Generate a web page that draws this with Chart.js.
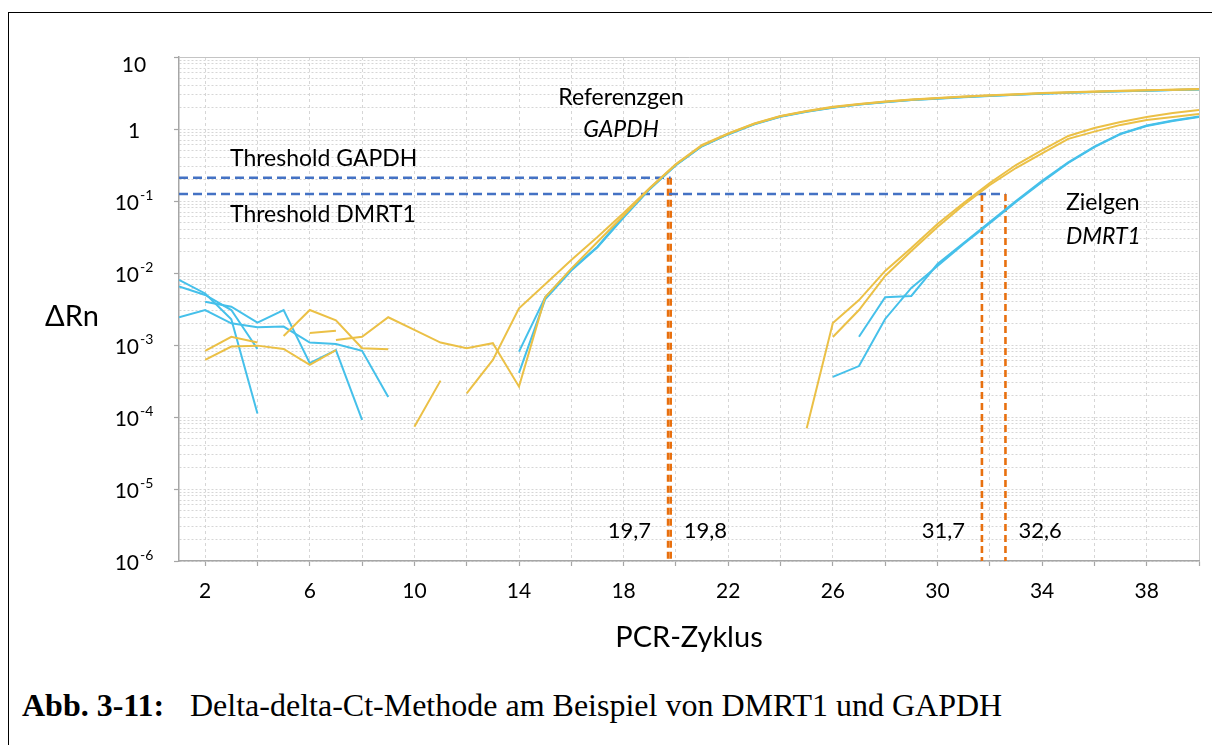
<!DOCTYPE html>
<html>
<head>
<meta charset="utf-8">
<title>Delta-delta-Ct-Methode</title>
<script src="https://cdn.jsdelivr.net/npm/chart.js@4.4.1/dist/chart.umd.min.js"></script>
<style>
  html, body { margin: 0; padding: 0; background: #fff; }
  body { width: 1212px; height: 745px; position: relative; overflow: hidden; }
  #frame { position: absolute; left: 8px; top: 12px; width: 1230px; height: 760px;
           border-left: 1.5px solid #000; border-top: 1.5px solid #000; }
  #chart { position: absolute; left: 0; top: 0; }
  #caption { position: absolute; left: 22px; top: 687px; white-space: nowrap; color: #000;
             font-family: "Liberation Serif", "Times New Roman", serif; font-size: 32px; }
  #caption b { display: inline-block; width: 168px; }
</style>
</head>
<body>
<div id="frame"></div>
<canvas id="chart" width="1212" height="680"></canvas>
<div id="caption"><b>Abb. 3-11:</b>Delta-delta-Ct-Methode am Beispiel von DMRT1 und GAPDH</div>
<script>
// PCR cycles
const cycles = [1,2,3,4,5,6,7,8,9,10,11,12,13,14,15,16,17,18,19,20,
                21,22,23,24,25,26,27,28,29,30,31,32,33,34,35,36,37,38,39,40];

// ΔRn per cycle; null = no value on the log axis (gap in the trace)
const gapdhBlue1 = [2.43e-3,3.06e-3,2.0e-3,1.76e-3,1.80e-3,1.08e-3,1.03e-3,8.3e-4,1.9e-4,null,
                    null,null,null,8.1e-4,4.6e-3,0.0112,0.0232,0.061,0.148,0.318,
                    0.58,0.85,1.17,1.49,1.75,1.99,2.19,2.37,2.53,2.65,
                    2.78,2.89,2.99,3.10,3.19,3.27,3.35,3.41,3.48,3.54];
const gapdhBlue2 = [null,4.0e-3,3.4e-3,2.04e-3,3.06e-3,5.6e-4,8.5e-4,9.1e-5,null,null,
                    null,null,null,4.1e-4,4.3e-3,0.0108,0.0228,0.059,0.146,0.314,
                    0.575,0.84,1.16,1.48,1.74,1.98,2.18,2.36,2.52,2.64,
                    2.77,2.88,2.98,3.09,3.18,3.26,3.34,3.40,3.47,3.53];
const gapdhYellow1 = [null,null,null,null,1.33e-3,3.06e-3,2.2e-3,9.0e-4,8.7e-4,null,
                      null,2.13e-4,6.2e-4,3.24e-3,7.0e-3,0.0152,0.0316,0.068,0.152,0.327,
                      0.60,0.87,1.19,1.52,1.78,2.03,2.23,2.41,2.57,2.70,
                      2.83,2.94,3.04,3.15,3.24,3.32,3.40,3.46,3.52,3.58];
const gapdhYellow2 = [null,null,null,null,null,null,1.17e-3,1.30e-3,2.43e-3,1.62e-3,
                      1.08e-3,9.0e-4,1.06e-3,2.64e-4,4.6e-3,0.0115,0.027,0.063,0.150,0.322,
                      0.59,0.86,1.18,1.50,1.76,2.01,2.21,2.39,2.55,2.68,
                      2.81,2.92,3.02,3.13,3.22,3.30,3.38,3.44,3.50,3.56];
const dmrt1Yellow1 = [null,8.3e-4,1.30e-3,1.08e-3,null,1.47e-3,1.58e-3,null,null,7.3e-5,
                      3.2e-4,null,null,null,null,null,null,null,null,null,
                      null,null,null,null,7.0e-5,2.02e-3,4.2e-3,0.0107,0.0222,0.048,
                      0.094,0.178,0.316,0.51,0.80,1.03,1.25,1.47,1.67,1.84];
const dmrt1Yellow2 = [null,6.2e-4,9.5e-4,9.8e-4,8.8e-4,5.3e-4,8.5e-4,null,null,null,
                      null,null,null,null,null,null,null,null,null,null,
                      null,null,null,null,null,1.29e-3,3.06e-3,9.1e-3,0.0202,0.0436,
                      0.088,0.167,0.287,0.46,0.73,0.92,1.14,1.33,1.47,1.62];
const dmrt1Blue1 = [8.0e-3,5.2e-3,2.28e-3,1.12e-4,null,null,null,null,null,null,
                    null,null,null,null,null,null,null,null,null,null,
                    null,null,null,null,null,3.6e-4,5.1e-4,2.3e-3,6.2e-3,0.0125,
                    0.0253,0.049,0.097,0.184,0.337,0.56,0.85,1.10,1.29,1.47];
const dmrt1Blue2 = [6.5e-3,4.95e-3,3.06e-3,8.8e-4,null,null,null,null,null,null,
                    null,null,null,null,null,null,null,null,null,null,
                    null,null,null,null,null,null,1.3e-3,4.6e-3,4.8e-3,0.0133,
                    0.026,0.051,0.10,0.19,0.343,0.57,0.86,1.12,1.31,1.49];

// thresholds and Ct values
const gapdhThreshold = 0.21;
const dmrt1Threshold = 0.125;
const gapdhCt = [19.7, 19.8];
const dmrt1Ct = [31.7, 32.6];
const gapdhCtLabels = ['19,7', '19,8'];
const dmrt1CtLabels = ['31,7', '32,6'];

// axis ticks
const xTickLabels = [2, 6, 10, 14, 18, 22, 26, 30, 34, 38];
const yTickValues = [10, 1, 0.1, 0.01, 0.001, 0.0001, 0.00001, 0.000001];
const yTickBase = ['10', '1', '10', '10', '10', '10', '10', '10'];
const yTickExp = ['', '', '-1', '-2', '-3', '-4', '-5', '-6'];

const YELLOW = '#EBC046';
const BLUE = '#45C0EA';
const THRESH = '#4472C4';
const ORANGE = '#E8700F';
const TEXT = '#000';
const FONT = 'Lato, "Open Sans", sans-serif';

Chart.defaults.font.family = FONT;

// grid positions: every 2 cycles, and 1..9 per decade on the log axis
const xGridValues = [];
for (let v = 2; v <= 40; v += 2) xGridValues.push(v);
const yGridValues = [];
for (let e = -6; e < 1; e++) {
  for (let m = 1; m <= 9; m++) yGridValues.push(Number((m * Math.pow(10, e)).toPrecision(3)));
}
yGridValues.push(10);

const toPoints = arr => cycles.map((c, i) => ({ x: c, y: arr[i] }));

function curve(label, arr, color) {
  return { label, data: toPoints(arr), borderColor: color, borderWidth: 2,
           pointRadius: 0, spanGaps: false, fill: false, tension: 0 };
}
function refLine(label, pts, color, width, dash) {
  return { label, data: pts, borderColor: color, borderWidth: width, borderDash: dash,
           pointRadius: 0, fill: false, tension: 0 };
}

const datasets = [
  curve('GAPDH 1', gapdhYellow1, YELLOW),
  curve('GAPDH 2', gapdhYellow2, YELLOW),
  curve('DMRT1 1', dmrt1Yellow1, YELLOW),
  curve('DMRT1 2', dmrt1Yellow2, YELLOW),
  curve('GAPDH 3', gapdhBlue1, BLUE),
  curve('GAPDH 4', gapdhBlue2, BLUE),
  curve('DMRT1 3', dmrt1Blue1, BLUE),
  curve('DMRT1 4', dmrt1Blue2, BLUE),
  refLine('Threshold GAPDH', [{ x: 1, y: gapdhThreshold }, { x: Math.max(...gapdhCt), y: gapdhThreshold }], THRESH, 2.6, [9, 5]),
  refLine('Threshold DMRT1', [{ x: 1, y: dmrt1Threshold }, { x: Math.max(...dmrt1Ct), y: dmrt1Threshold }], THRESH, 2.6, [9, 5]),
  ...gapdhCt.map(ct => refLine('Ct GAPDH', [{ x: ct, y: gapdhThreshold }, { x: ct, y: 1e-6 }], ORANGE, 2.6, [7, 4])),
  ...dmrt1Ct.map(ct => refLine('Ct DMRT1', [{ x: ct, y: dmrt1Threshold }, { x: ct, y: 1e-6 }], ORANGE, 2.6, [7, 4]))
];

function text(ctx, s, x, cy, size, align, italic) {
  ctx.font = (italic ? 'italic ' : '') + size + 'px ' + FONT;
  ctx.textAlign = align || 'left';
  ctx.textBaseline = 'alphabetic';
  ctx.fillText(s, x, cy + size * 0.36);
}

// tick labels with exponents, axis name and annotations
const annotate = {
  id: 'annotate',
  afterDraw(chart) {
    const { ctx, chartArea: a, scales: { x, y } } = chart;
    ctx.save();
    ctx.fillStyle = TEXT;

    const labelCenter = a.left - 45;
    yTickValues.forEach((v, i) => {
      const gy = Math.max(y.getPixelForValue(v), a.top + 6);
      const base = yTickBase[i], ex = yTickExp[i];
      ctx.font = '21px ' + FONT;
      const bw = ctx.measureText(base).width;
      ctx.font = '14px ' + FONT;
      const ew = ex ? ctx.measureText(ex).width + 1 : 0;
      const x0 = labelCenter - (bw + ew) / 2;
      const baseLine = gy + 1 + 21 * 0.36;
      ctx.textAlign = 'left';
      ctx.textBaseline = 'alphabetic';
      ctx.font = '21px ' + FONT;
      ctx.fillText(base, x0, baseLine);
      if (ex) {
        ctx.font = '14px ' + FONT;
        ctx.fillText(ex, x0 + bw + 1, baseLine - 9.5);
      }
    });

    text(ctx, 'ΔRn', 72, 316, 29, 'center');

    text(ctx, 'Referenzgen', 621, 97, 23, 'center');
    text(ctx, 'GAPDH', 621, 129, 23, 'center', true);
    text(ctx, 'Threshold GAPDH', 230, 158, 23, 'left');
    text(ctx, 'Threshold DMRT1', 230, 214, 23, 'left');
    text(ctx, 'Zielgen', 1066, 202, 23, 'left');
    text(ctx, 'DMRT1', 1066, 236, 23, 'left', true);

    const ctY = 530;
    text(ctx, gapdhCtLabels[0], x.getPixelForValue(gapdhCt[0]) - 17, ctY, 22, 'right');
    text(ctx, gapdhCtLabels[1], x.getPixelForValue(gapdhCt[1]) + 13, ctY, 22, 'left');
    text(ctx, dmrt1CtLabels[0], x.getPixelForValue(dmrt1Ct[0]) - 17, ctY, 22, 'right');
    text(ctx, dmrt1CtLabels[1], x.getPixelForValue(dmrt1Ct[1]) + 13, ctY, 22, 'left');
    ctx.restore();
  }
};

new Chart(document.getElementById('chart'), {
  type: 'line',
  data: { datasets },
  options: {
    responsive: false,
    animation: false,
    events: [],
    layout: { padding: { left: 173, right: 9, top: 57, bottom: 22 } },
    plugins: { legend: { display: false }, tooltip: { enabled: false } },
    scales: {
      x: {
        type: 'linear', min: 1, max: 40,
        afterBuildTicks(s) { s.ticks = xGridValues.map(v => ({ value: v })); },
        afterFit(s) { s.height = 97; },
        ticks: {
          autoSkip: false, maxRotation: 0, padding: 13, color: TEXT, font: { size: 21 },
          callback: v => xTickLabels.includes(v) ? String(v) : ''
        },
        grid: {
          color: c => (c.tick && c.tick.value === 40) ? '#c4c4c4' : '#d6d6d6',
          lineWidth: 1, drawTicks: true, tickLength: 5, tickColor: '#a6a6a6', tickWidth: 1.2
        },
        border: { color: '#a6a6a6', width: 1.5,
                  dash: c => (c.tick && c.tick.value === 40) ? [] : [3, 3] },
        title: { display: true, text: 'PCR-Zyklus', color: TEXT, font: { size: 29 },
                 padding: { top: 0, bottom: 3 } }
      },
      y: {
        type: 'logarithmic', min: 1e-6, max: 10,
        afterBuildTicks(s) { s.ticks = yGridValues.map(v => ({ value: v })); },
        afterFit(s) { s.width = 6; },
        ticks: { display: false, autoSkip: false },
        grid: {
          color: c => (c.tick && c.tick.value === 10) ? '#c4c4c4' : '#d6d6d6',
          lineWidth: 1, drawTicks: true, tickLength: 5, tickWidth: 1.2,
          tickColor: c => (c.tick && yTickValues.includes(c.tick.value)) ? '#a6a6a6' : 'rgba(0,0,0,0)'
        },
        border: { color: '#a6a6a6', width: 1.5,
                  dash: c => (c.tick && c.tick.value === 10) ? [] : [2, 2] }
      }
    }
  },
  plugins: [annotate]
});
</script>
</body>
</html>
